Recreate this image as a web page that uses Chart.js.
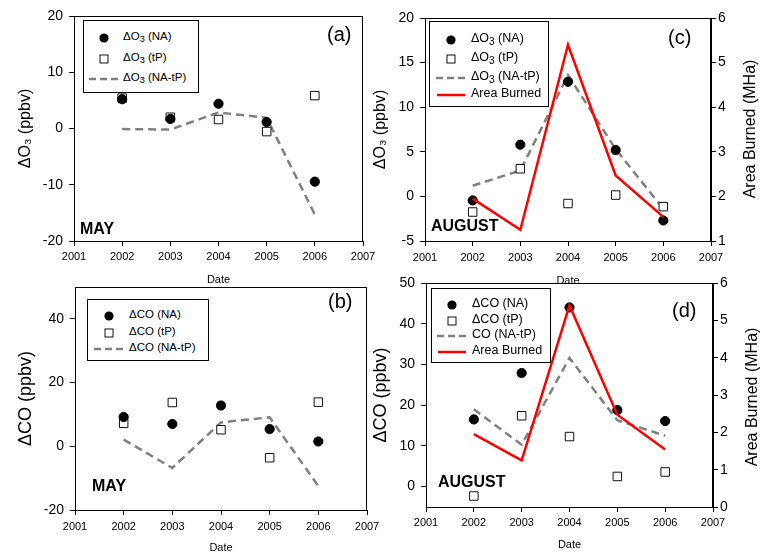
<!DOCTYPE html>
<html>
<head>
<meta charset="utf-8">
<script src="https://cdn.jsdelivr.net/npm/chart.js@4.4.1/dist/chart.umd.min.js"></script>
<style>
body { margin: 0; background: #fff; }
#wrap { position: relative; width: 760px; height: 553px; overflow: hidden;
        font-family: Arial, "Liberation Sans", sans-serif; color: #000; }
canvas { position: absolute; left: 0; top: 0; }
.lab { position: absolute; white-space: nowrap; line-height: 1; z-index: 5; }
.bold { font-weight: bold; }
.legend { position: absolute; border: 1px solid #000; background: #fff; box-sizing: border-box; z-index: 4; }
.ltxt { position: absolute; white-space: nowrap; transform: translateY(-50%); z-index: 6; }
.sw { position: absolute; z-index: 6; }
.rtitle { position: absolute; white-space: nowrap; font-size: 16px; transform: translate(-50%, -50%) rotate(-90deg); z-index: 5; }
sub { font-size: 80%; vertical-align: -0.25em; line-height: 0; }
</style>
</head>
<body>
<div id="wrap">
  <canvas id="ca" width="760" height="553"></canvas>
  <canvas id="cb" width="760" height="553"></canvas>
  <canvas id="cc" width="760" height="553"></canvas>
  <canvas id="cd" width="760" height="553"></canvas>

  <div class="lab" style="left:327px;top:24px;font-size:20px">(a)</div>
  <div class="lab" style="left:328px;top:291px;font-size:20px">(b)</div>
  <div class="lab" style="left:668px;top:27px;font-size:20px">(c)</div>
  <div class="lab" style="left:672px;top:300px;font-size:20px">(d)</div>

  <div class="lab bold" style="left:80px;top:221px;font-size:16px">MAY</div>
  <div class="lab bold" style="left:92px;top:478px;font-size:16px">MAY</div>
  <div class="lab bold" style="left:431px;top:218px;font-size:16px">AUGUST</div>
  <div class="lab bold" style="left:438px;top:474px;font-size:16px">AUGUST</div>

  <div class="rtitle" style="left:750px;top:129px">Area Burned (MHa)</div>
  <div class="rtitle" style="left:752px;top:397px">Area Burned (MHa)</div>
</div>
<script>
// years and tick values
const years = [2002, 2003, 2004, 2005, 2006];
const yearTicks = [2001, 2002, 2003, 2004, 2005, 2006, 2007];

// (a) May O3
const mayO3NA = [5.2, 1.7, 4.4, 1.15, -9.45];
const mayO3tP = [5.4, 2.0, 1.6, -0.55, 5.85];
const mayO3Diff = [-0.1, -0.2, 2.85, 1.9, -15.3];
const ticksA = [-20, -10, 0, 10, 20];

// (b) May CO
const mayCONA = [9.2, 7.0, 12.8, 5.4, 1.5];
const mayCOtP = [7.2, 13.75, 5.2, -3.6, 13.85];
const mayCODiff = [2.1, -6.8, 7.5, 9.1, -12.5];
const ticksB = [-20, 0, 20, 40];

// (c) August O3
const augO3NA = [-0.45, 5.8, 12.85, 5.2, -2.7];
const augO3tP = [-1.75, 3.1, -0.8, 0.15, -1.15];
const augO3Diff = [1.2, 2.9, 13.6, 5.3, -1.4];
const ticksC = [-5, 0, 5, 10, 15, 20];
const areaTicksC = [1, 2, 3, 4, 5, 6];

// (d) August CO
const augCONA = [16.5, 27.9, 44.0, 18.8, 16.1];
const augCOtP = [-2.3, 17.4, 12.3, 2.5, 3.6];
const augCODiff = [19.0, 10.3, 31.6, 16.3, 12.5];
const ticksD = [0, 10, 20, 30, 40, 50];
const areaTicksD = [0, 1, 2, 3, 4, 5, 6];

// area burned (MHa), same in (c) and (d)
const areaBurned = [1.95, 1.25, 5.4, 2.47, 1.54];

Chart.defaults.font.family = 'Arial, "Liberation Sans", sans-serif';
Chart.defaults.color = '#000';

function pts(arr) {
    return years.map((x, i) => ({x: x, y: arr[i]}));
}

const frame = {
    id: 'frame',
    beforeDatasetsDraw(chart) {
        const a = chart.chartArea;
        const ctx = chart.ctx;
        ctx.save();
        ctx.strokeStyle = '#000';
        ctx.lineWidth = 1;
        ctx.strokeRect(Math.round(a.left) + 0.5, Math.round(a.top) + 0.5,
                       Math.round(a.right - a.left) - 1, Math.round(a.bottom - a.top));
        ctx.restore();
    }
};

function dots(arr) {
    return {data: pts(arr), pointStyle: 'circle', pointRadius: 4.6,
            backgroundColor: '#000', borderColor: '#000', borderWidth: 1, order: 1};
}
function squares(arr) {
    return {data: pts(arr), pointStyle: 'rect', pointRadius: 6,
            backgroundColor: '#fff', borderColor: '#111', borderWidth: 1, order: 2};
}
function dashed(arr) {
    return {data: pts(arr), showLine: true, pointRadius: 0, borderColor: '#808080',
            borderWidth: 2.5, borderDash: [8, 5], order: 3};
}
function redLine(arr) {
    return {data: pts(arr), showLine: true, pointRadius: 0, borderColor: '#ff0000',
            borderWidth: 2.5, yAxisID: 'y2', order: 0};
}

function makePanel(id, p) {
    const xh = p.dateY + 6.6 - p.b;
    const scales = {
        x: {
            type: 'linear', min: 2001, max: 2007,
            afterBuildTicks: ax => { ax.ticks = yearTicks.map(v => ({value: v})); },
            afterFit: ax => { ax.height = xh; },
            grid: {drawOnChartArea: false, tickLength: 5, color: '#000'},
            border: {color: '#000'},
            ticks: {font: {size: 11}, padding: p.xPad, maxRotation: 0, autoSkip: false,
                    callback: v => String(v)},
            title: {display: true, text: 'Date', font: {size: 11}, padding: 0}
        },
        y: {
            position: 'left', min: p.yMin, max: p.yMax,
            afterBuildTicks: ax => { ax.ticks = p.yTicks.map(v => ({value: v})); },
            afterFit: ax => { ax.width = p.l - p.regionL; },
            grid: {drawOnChartArea: false, tickLength: 5, color: '#000'},
            border: {color: '#000'},
            ticks: {font: {size: 14}, padding: 6},
            title: {display: true, text: p.yTitle, font: {size: p.yTitleSize},
                    padding: {top: p.yTitlePad, bottom: 0}}
        }
    };
    if (p.y2Ticks) {
        scales.y2 = {
            position: 'right', min: p.y2Ticks[0], max: p.y2Ticks[p.y2Ticks.length - 1],
            afterBuildTicks: ax => { ax.ticks = p.y2Ticks.map(v => ({value: v})); },
            afterFit: ax => { ax.width = 760 - p.r; },
            grid: {drawOnChartArea: false, tickLength: 5, color: '#000'},
            border: {color: '#000'},
            ticks: {font: {size: 14}, padding: 2}
        };
    }
    return new Chart(document.getElementById(id), {
        type: 'scatter',
        data: {datasets: p.datasets},
        options: {
            responsive: false,
            animation: false,
            events: [],
            layout: {padding: {left: p.regionL, top: p.t,
                               right: p.y2Ticks ? 0 : 760 - p.r,
                               bottom: 553 - p.b - xh}},
            plugins: {legend: {display: false}, tooltip: {enabled: false}},
            scales: scales
        },
        plugins: [frame]
    });
}

makePanel('ca', {
    regionL: 0, l: 74, r: 363, t: 16, b: 241, dateY: 280, xPad: 4,
    yMin: -20, yMax: 20, yTicks: ticksA,
    yTitle: 'ΔO₃ (ppbv)', yTitleSize: 16, yTitlePad: 16,
    datasets: [dots(mayO3NA), squares(mayO3tP), dashed(mayO3Diff)]
});
makePanel('cb', {
    regionL: 0, l: 75, r: 367, t: 287, b: 510, dateY: 548, xPad: 5.5,
    yMin: -20, yMax: 50, yTicks: ticksB,
    yTitle: 'ΔCO (ppbv)', yTitleSize: 18, yTitlePad: 15,
    datasets: [dots(mayCONA), squares(mayCOtP), dashed(mayCODiff)]
});
makePanel('cc', {
    regionL: 370, l: 425, r: 711, t: 18, b: 241, dateY: 281, xPad: 5.5,
    yMin: -5, yMax: 20, yTicks: ticksC, y2Ticks: areaTicksC,
    yTitle: 'ΔO₃ (ppbv)', yTitleSize: 16, yTitlePad: 1,
    datasets: [dots(augO3NA), squares(augO3tP), dashed(augO3Diff), redLine(areaBurned)]
});
makePanel('cd', {
    regionL: 370, l: 426, r: 713, t: 283, b: 507, dateY: 545, xPad: 4.5,
    yMin: -5, yMax: 50, yTicks: ticksD, y2Ticks: areaTicksD,
    yTitle: 'ΔCO (ppbv)', yTitleSize: 18, yTitlePad: 0,
    datasets: [dots(augCONA), squares(augCOtP), dashed(augCODiff), redLine(areaBurned)]
});

// legends drawn as html boxes inside each panel
function swatch(kind, cx, cy) {
    const wrap = document.getElementById('wrap');
    const el = document.createElement('div');
    el.className = 'sw';
    el.style.left = (cx - 16) + 'px';
    el.style.top = (cy - 6) + 'px';
    let svg = '';
    if (kind == 'dot') {
        svg = '<circle cx="16" cy="6" r="4.6" fill="#000"/>';
    }
    else if (kind == 'sq') {
        svg = '<rect x="12" y="2" width="8" height="8" fill="#fff" stroke="#111" stroke-width="1"/>';
    }
    else if (kind == 'dash') {
        svg = '<line x1="1" y1="6" x2="31" y2="6" stroke="#808080" stroke-width="2.5" stroke-dasharray="7,4"/>';
    }
    else {
        svg = '<line x1="2" y1="6" x2="30" y2="6" stroke="#ff0000" stroke-width="2.5"/>';
    }
    el.innerHTML = '<svg width="32" height="12">' + svg + '</svg>';
    wrap.appendChild(el);
}

function addLegend(box, rows, swX, txtX, size) {
    const wrap = document.getElementById('wrap');
    const b = document.createElement('div');
    b.className = 'legend';
    b.style.left = box[0] + 'px';
    b.style.top = box[1] + 'px';
    b.style.width = box[2] + 'px';
    b.style.height = box[3] + 'px';
    wrap.appendChild(b);
    rows.forEach(r => {
        swatch(r[1], swX, r[0]);
        const t = document.createElement('div');
        t.className = 'ltxt';
        t.style.left = txtX + 'px';
        t.style.top = r[0] + 'px';
        t.style.fontSize = size + 'px';
        t.innerHTML = r[2];
        wrap.appendChild(t);
    });
}

addLegend([83, 20, 116, 73], [
    [36, 'dot', 'ΔO<sub>3</sub> (NA)'],
    [57, 'sq', 'ΔO<sub>3</sub> (tP)'],
    [77, 'dash', 'ΔO<sub>3</sub> (NA-tP)']
], 104, 123, 11.5);

addLegend([87, 299, 122, 62], [
    [314, 'dot', 'ΔCO (NA)'],
    [331, 'sq', 'ΔCO (tP)'],
    [347, 'dash', 'ΔCO (NA-tP)']
], 109, 129, 11.5);

addLegend([429, 21, 120, 86], [
    [38, 'dot', 'ΔO<sub>3</sub> (NA)'],
    [57, 'sq', 'ΔO<sub>3</sub> (tP)'],
    [76, 'dash', 'ΔO<sub>3</sub> (NA-tP)'],
    [93, 'red', 'Area Burned']
], 451, 471, 12.5);

addLegend([431, 288, 120, 75], [
    [303, 'dot', 'ΔCO (NA)'],
    [319, 'sq', 'ΔCO (tP)'],
    [334, 'dash', 'CO (NA-tP)'],
    [350, 'red', 'Area Burned']
], 452, 472, 12.5);
</script>
</body>
</html>
